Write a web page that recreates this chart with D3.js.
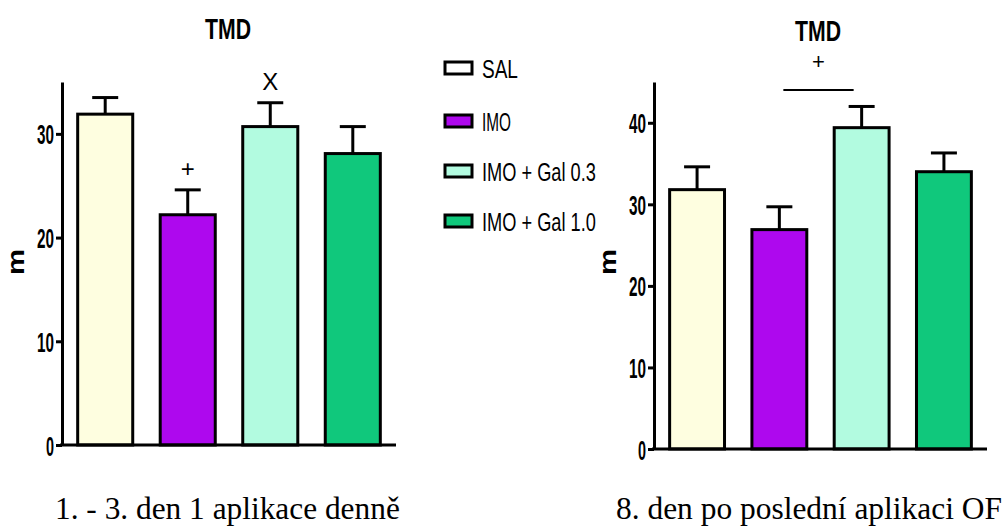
<!DOCTYPE html>
<html>
<head>
<meta charset="utf-8">
<script src="https://cdn.jsdelivr.net/npm/d3@7"></script>
<style>
  html, body { margin: 0; padding: 0; background: #ffffff; }
  svg { display: block; }
  .narrow { font-family: "Liberation Sans Narrow", "Arial Narrow", "Liberation Sans", Arial, sans-serif; }
  .serif { font-family: "Liberation Serif", "Times New Roman", "DejaVu Serif", serif; }
</style>
</head>
<body>
<svg id="chart" width="1007" height="526"></svg>
<script>
// Treatment groups and bar fills
const groups = ["SAL", "IMO", "IMO + Gal 0.3", "IMO + Gal 1.0"];
const groupFills = ["#fefee0", "#ae08ee", "#b2fbe0", "#10c87c"];

// Panel 1: days 1–3, one application per day (mean and SEM)
const meanDays1to3 = [31.9, 22.2, 30.7, 28.1];
const semDays1to3 = [1.6, 2.4, 2.3, 2.6];
const ticksDays1to3 = [0, 10, 20, 30];
const marksDays1to3 = ["", "+", "X", ""];

// Panel 2: day 8 after the last application (mean and SEM)
const meanDay8 = [31.8, 26.9, 39.4, 34.0];
const semDay8 = [2.8, 2.8, 2.6, 2.3];
const ticksDay8 = [0, 10, 20, 30, 40];

const panelTitle = "TMD";
const yLabel = "m";
const captionDays1to3 = "1. - 3. den 1 aplikace denně";
const captionDay8 = "8. den po poslední aplikaci OF";

const svg = d3.select("#chart");

// Horizontally condense a text element to a given width around its anchor point
function squeeze(node, width, ax, ay) {
  const w = node.getComputedTextLength();
  const s = width / w;
  node.setAttribute("transform",
    `translate(${ax},${ay}) scale(${s},1) translate(${-ax},${-ay})`);
}

function drawPanel(cfg) {
  const g = svg.append("g");
  const x = d3.scaleBand()
    .domain(groups)
    .range([cfg.x0, cfg.x1])
    .paddingInner(0.333)
    .paddingOuter(0.19);
  const y = d3.scaleLinear().domain(cfg.domain).range([cfg.y0, cfg.yTop]);

  // Error bars (upper side only), drawn behind the bars
  groups.forEach((k, i) => {
    const cx = x(k) + x.bandwidth() / 2;
    const top = y(cfg.means[i] + cfg.sems[i]);
    g.append("line")
      .attr("x1", cx).attr("x2", cx)
      .attr("y1", y(cfg.means[i])).attr("y2", top)
      .attr("stroke", "#000").attr("stroke-width", 3);
    g.append("line")
      .attr("x1", cx - 13).attr("x2", cx + 13)
      .attr("y1", top).attr("y2", top)
      .attr("stroke", "#000").attr("stroke-width", 3);
  });

  // Bars
  g.selectAll("rect.bar")
    .data(groups)
    .join("rect")
    .attr("class", "bar")
    .attr("x", d => x(d))
    .attr("width", x.bandwidth())
    .attr("y", (d, i) => y(cfg.means[i]))
    .attr("height", (d, i) => y(0) - y(cfg.means[i]))
    .attr("fill", (d, i) => groupFills[i])
    .attr("stroke", "#000")
    .attr("stroke-width", 3);

  // Y axis
  const yAxis = d3.axisLeft(y).tickValues(cfg.ticks).tickSize(6).tickSizeOuter(0).tickPadding(2);
  const ya = g.append("g").attr("transform", `translate(${cfg.x0},0)`).call(yAxis);
  ya.attr("font-size", null).attr("font-family", null);
  ya.select(".domain").attr("stroke", "#000").attr("stroke-width", 3);
  ya.selectAll(".tick line").attr("stroke", "#000").attr("stroke-width", 3);
  ya.selectAll(".tick text")
    .attr("class", "narrow")
    .attr("dy", "0.36em")
    .style("font-size", "28px")
    .style("font-weight", "bold")
    .attr("fill", "#000")
    .each(function (d) { squeeze(this, d === 0 ? 8 : 17, -8, 0); });

  // X axis baseline
  g.append("line")
    .attr("x1", cfg.x0 - 2).attr("x2", cfg.x1)
    .attr("y1", y(0)).attr("y2", y(0))
    .attr("stroke", "#000").attr("stroke-width", 3);

  // Axis title (rotated, reads bottom to top)
  g.append("text")
    .attr("class", "narrow")
    .attr("x", 0).attr("y", 0)
    .attr("text-anchor", "middle")
    .style("font-size", "24px")
    .style("font-weight", "bold")
    .text(yLabel)
    .each(function () {
      const s = 26 / this.getComputedTextLength();
      this.setAttribute("transform",
        `translate(${cfg.x0 - 38},${cfg.labelY}) rotate(-90) scale(${s},1)`);
    });

  // Panel title
  g.append("text")
    .attr("class", "narrow")
    .attr("x", cfg.titleX).attr("y", cfg.titleY)
    .attr("text-anchor", "middle")
    .style("font-size", "30px")
    .style("font-weight", "bold")
    .text(panelTitle)
    .each(function () { squeeze(this, 46, cfg.titleX, cfg.titleY); });

  // Caption
  g.append("text")
    .attr("class", "serif")
    .attr("x", cfg.captionX).attr("y", 519)
    .style("font-size", "31px")
    .text(cfg.caption)
    .each(function () { squeeze(this, cfg.captionW, cfg.captionX, 519); });

  return { g, x, y };
}

// Left panel
const p1 = drawPanel({
  x0: 62, x1: 396, y0: 445, yTop: 82, domain: [0, 35],
  means: meanDays1to3, sems: semDays1to3, ticks: ticksDays1to3,
  labelY: 262, titleX: 228, titleY: 39,
  caption: captionDays1to3, captionX: 55, captionW: 345
});

// Significance marks above the left bars
marksDays1to3.forEach((m, i) => {
  if (!m) return;
  const cx = p1.x(groups[i]) + p1.x.bandwidth() / 2;
  const top = p1.y(meanDays1to3[i] + semDays1to3[i]);
  p1.g.append("text")
    .attr("class", "narrow")
    .attr("x", cx).attr("y", top - 13)
    .attr("text-anchor", "middle")
    .style("font-size", "24px")
    .text(m);
});

// Right panel
const p2 = drawPanel({
  x0: 654, x1: 987, y0: 449, yTop: 82, domain: [0, 45],
  means: meanDay8, sems: semDay8, ticks: ticksDay8,
  labelY: 262, titleX: 818, titleY: 41,
  caption: captionDay8, captionX: 616, captionW: 386
});

// Comparison bracket between IMO and IMO + Gal 0.3
{
  const xa = p2.x(groups[1]) + p2.x.bandwidth() / 2 + 4;
  const xb = p2.x(groups[2]) + p2.x.bandwidth() / 2 - 8;
  p2.g.append("line")
    .attr("x1", xa).attr("x2", xb)
    .attr("y1", 90).attr("y2", 90)
    .attr("stroke", "#000").attr("stroke-width", 2);
  p2.g.append("text")
    .attr("class", "narrow")
    .attr("x", (xa + xb) / 2).attr("y", 69)
    .attr("text-anchor", "middle")
    .style("font-size", "22px")
    .text("+");
}

// Legend
const legend = svg.append("g").attr("transform", "translate(445,0)");
const legendY = [68, 121, 171, 221];
const legendTextW = [36, 29, 114, 114];
groups.forEach((k, i) => {
  legend.append("rect")
    .attr("x", 0).attr("y", legendY[i] - 6)
    .attr("width", 27).attr("height", 12)
    .attr("fill", i === 0 ? "#ffffff" : groupFills[i])
    .attr("stroke", "#000").attr("stroke-width", 3);
  legend.append("text")
    .attr("class", "narrow")
    .attr("x", 37).attr("y", legendY[i] + 10)
    .style("font-size", "26px")
    .text(k)
    .each(function () { squeeze(this, legendTextW[i], 37, legendY[i] + 10); });
});
</script>
</body>
</html>
